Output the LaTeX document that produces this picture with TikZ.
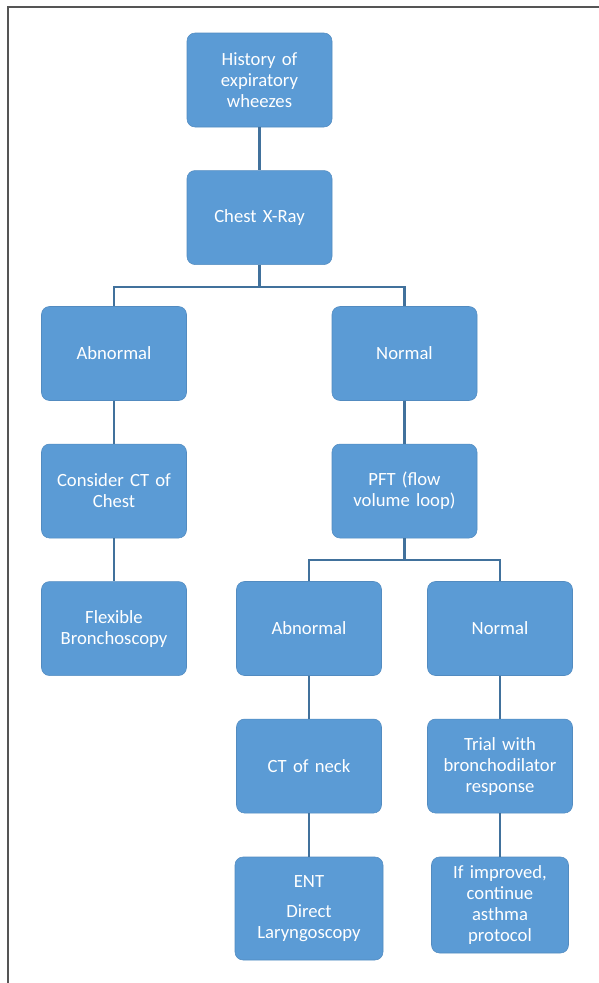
\documentclass[tikz,border=0pt]{standalone}
\usepackage{fontspec}
\setmainfont{Carlito}
\usepackage{xcolor}
\usetikzlibrary{positioning,calc}
\definecolor{boxblue}{HTML}{5B9BD5}
\definecolor{lineblue}{HTML}{41719C}
\definecolor{framegray}{HTML}{555555}

\begin{document}
\begin{tikzpicture}[x=0.75pt, y=-0.75pt, node distance=32.25pt,
  fbox/.style={fill=boxblue, draw=boxblue!90!black, line width=0.4pt, rounded corners=6pt,
    text=white, align=center, text width=96pt, minimum width=108.75pt, minimum height=70.5pt,
    inner sep=2pt, font=\fontsize{14}{15.75}\selectfont},
  link/.style={draw=lineblue, line width=1.7pt}]
  \useasboundingbox (0,0) rectangle (599,983);
  % frame
  \draw[framegray, line width=1.2pt] (8,983) -- (8,7) -- (599,7);
  % top
  \node[fbox] (hist) at (259.5,80) {History of\\expiratory\\wheezes};
  \node[fbox, below=of hist] (chest) {Chest X-Ray};
  % left branch
  \node[fbox] (abn1) at (114,353.5) {Abnormal};
  \node[fbox, below=of abn1] (ctchest) {Consider CT of\\Chest};
  \node[fbox, below=of ctchest] (flex) {Flexible\\Bronchoscopy};
  % right branch
  \node[fbox] (norm1) at (404.5,353.5) {Normal};
  \node[fbox, below=of norm1] (pft) {PFT (flow\\volume loop)};
  \node[fbox] (abn2) at (309,628.5) {Abnormal};
  \node[fbox, below=of abn2] (ctneck) {CT of neck};
  \node[fbox, minimum width=111pt, minimum height=77.25pt] (ent) at (309,908.5) {ENT\\[7pt]Direct\\Laryngoscopy};
  \node[fbox] (norm2) at (500,628.5) {Normal};
  \node[fbox, below=of norm2] (trial) {Trial with\\bronchodilator\\response};
  \node[fbox, minimum width=102.75pt, minimum height=72pt] (impr) at (500,905) {If improved,\\continue\\asthma\\protocol};
  % connectors
  \draw[link] (hist) -- (chest);
  \draw[link] (chest.south) -- ++(0,22) -| (abn1.north);
  \draw[link] (chest.south) -- ++(0,22) -| (norm1.north);
  \foreach \a/\b in {abn1/ctchest,ctchest/flex,norm1/pft,abn2/ctneck,ctneck/ent,norm2/trial,trial/impr}{\draw[link](\a)--(\b);}
  \draw[link] (pft.south) -- ++(0,22) -| (abn2.north);
  \draw[link] (pft.south) -- ++(0,22) -| (norm2.north);
\end{tikzpicture}
\end{document}
